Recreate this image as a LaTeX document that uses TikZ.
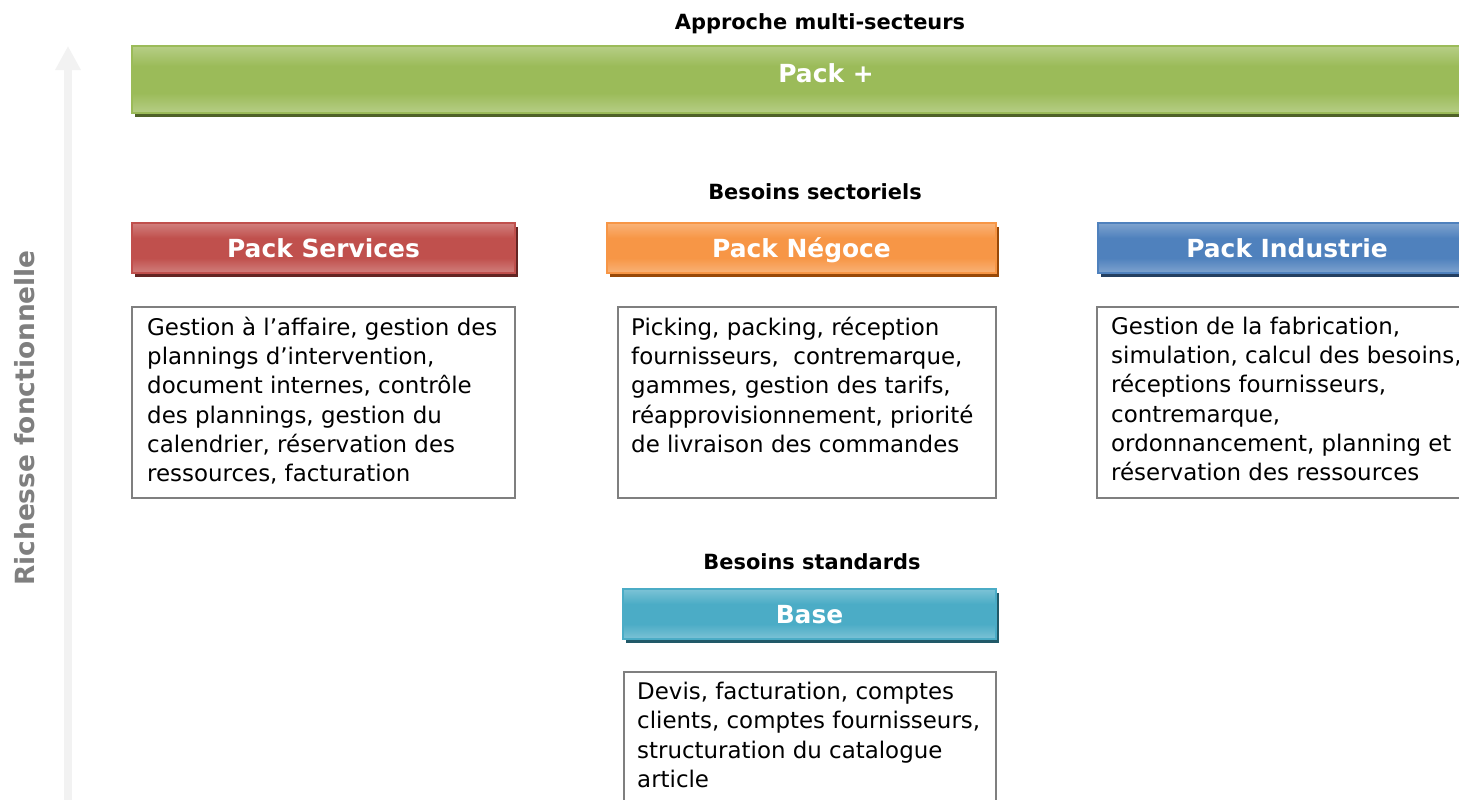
\documentclass[tikz,border=0pt]{standalone}
\usepackage{fontspec}
\setmainfont{DejaVu Sans}
\usetikzlibrary{arrows.meta,shadows}
\definecolor{gmid}{HTML}{9BBB59}\definecolor{glight}{HTML}{C3D69B}\definecolor{gdark}{HTML}{4F6228}
\definecolor{rmid}{HTML}{C0504D}\definecolor{rlight}{HTML}{D99694}\definecolor{rdark}{HTML}{632523}
\definecolor{omid}{HTML}{F79646}\definecolor{olight}{HTML}{FAC08F}\definecolor{odark}{HTML}{984807}
\definecolor{bmid}{HTML}{4F81BD}\definecolor{blight}{HTML}{95B3D7}\definecolor{bdark}{HTML}{243F60}
\definecolor{tmid}{HTML}{4BACC6}\definecolor{tlight}{HTML}{93CDDD}\definecolor{tdark}{HTML}{215968}
\definecolor{axisgray}{HTML}{F2F2F2}\definecolor{labelgray}{HTML}{7F7F7F}\definecolor{boxgray}{HTML}{7F7F7F}
\newcommand\mkglossy[3]{\pgfdeclareverticalshading{#1}{100bp}{color(0bp)=(#2);color(18bp)=(#2);color(40bp)=(#3);color(60bp)=(#3);color(82bp)=(#2);color(100bp)=(#2)}}
\mkglossy{gshade}{glight}{gmid}
\mkglossy{rshade}{rlight}{rmid}
\mkglossy{oshade}{olight}{omid}
\mkglossy{bshade}{blight}{bmid}
\mkglossy{tshade}{tlight}{tmid}
\tikzset{
  barfont/.style={text=white, font=\fontsize{25}{29}\selectfont\bfseries, text height=18.2bp, text depth=0pt},
  pbar/.style={anchor=north west, minimum height=50bp, inner sep=0pt, line width=2bp, barfont},
  sectitle/.style={font=\fontsize{21}{24}\selectfont\bfseries, text=black, inner sep=0pt, text height=15.3bp, text depth=0pt},
  descbox/.style={anchor=north west, draw=boxgray, line width=1.5bp, fill=white, inner sep=0pt},
  desctext/.style={anchor=north west, align=left, inner sep=0pt, font=\fontsize{23}{29.3}\selectfont},
  shad/.style={drop shadow={shadow xshift=3bp, shadow yshift=-4bp, fill=#1, opacity=1}}
}
\begin{document}
\begin{tikzpicture}[x=1bp,y=-1bp]
\useasboundingbox (0,0) rectangle (1459,799);
\fill[white] (0,0) rectangle (1459,799);
\clip (0,0) rectangle (1459,799);
% axis
\coordinate (abot) at (68,805);
\coordinate (atop) at (68,46);
\draw[axisgray, line width=8bp, -{Triangle[width=24bp,length=24bp]}] (abot) -- (atop);
\node[rotate=90, font=\fontsize{26.5}{30}\selectfont\bfseries, text=labelgray, inner sep=0pt, text height=19bp, text depth=0pt] (rich) at (25,418) {Richesse fonctionnelle};
% top
\node[sectitle] (t1) at (820,22) {Approche multi-secteurs};
\node[pbar, draw=gmid, shading=gshade, shad=gdark, minimum width=1400bp, minimum height=67bp] (pplus) at (131,45) {};
\node[barfont, inner sep=0pt] (pplustxt) at (826,73) {Pack +};
% sector
\node[sectitle] (t2) at (815,192) {Besoins sectoriels};
\node[pbar, draw=rmid, shading=rshade, shad=rdark, minimum width=383bp] (psvc) at (131,222) {Pack Services};
\node[pbar, draw=omid, shading=oshade, shad=odark, minimum width=389bp] (pneg) at (606,222) {Pack Négoce};
\node[pbar, draw=bmid, shading=bshade, shad=bdark, minimum width=378bp] (pind) at (1097,222) {Pack Industrie};
\node[descbox, minimum width=383bp, minimum height=191bp] (dsvc) at (131,306) {};
\node[descbox, minimum width=378bp, minimum height=191bp] (dneg) at (617,306) {};
\node[descbox, minimum width=400bp, minimum height=191bp] (dind) at (1096,306) {};
\node[desctext] (tsvc) at (147,317) {Gestion à l’affaire, gestion des\\plannings d’intervention,\\document internes, contrôle\\des plannings, gestion du\\calendrier, réservation des\\ressources, facturation};
\node[desctext] (tneg) at (631,317) {Picking, packing, réception\\fournisseurs,\ \ contremarque,\\gammes, gestion des tarifs,\\réapprovisionnement, priorité\\de livraison des commandes};
\node[desctext] (tind) at (1111,317) {Gestion de la fabrication,\\simulation, calcul des besoins,\\réceptions fournisseurs,\\contremarque,\\ordonnancement, planning et\\réservation des ressources};
% standard
\node[sectitle] (t3) at (812,562) {Besoins standards};
\node[pbar, draw=tmid, shading=tshade, shad=tdark, minimum width=373bp] (pbase) at (622,588) {Base};
\node[descbox, minimum width=372bp, minimum height=160bp] (dbase) at (623,671) {};
\node[desctext] (tbase) at (637,682) {Devis, facturation, comptes\\clients, comptes fournisseurs,\\structuration du catalogue\\article};
\end{tikzpicture}
\end{document}
